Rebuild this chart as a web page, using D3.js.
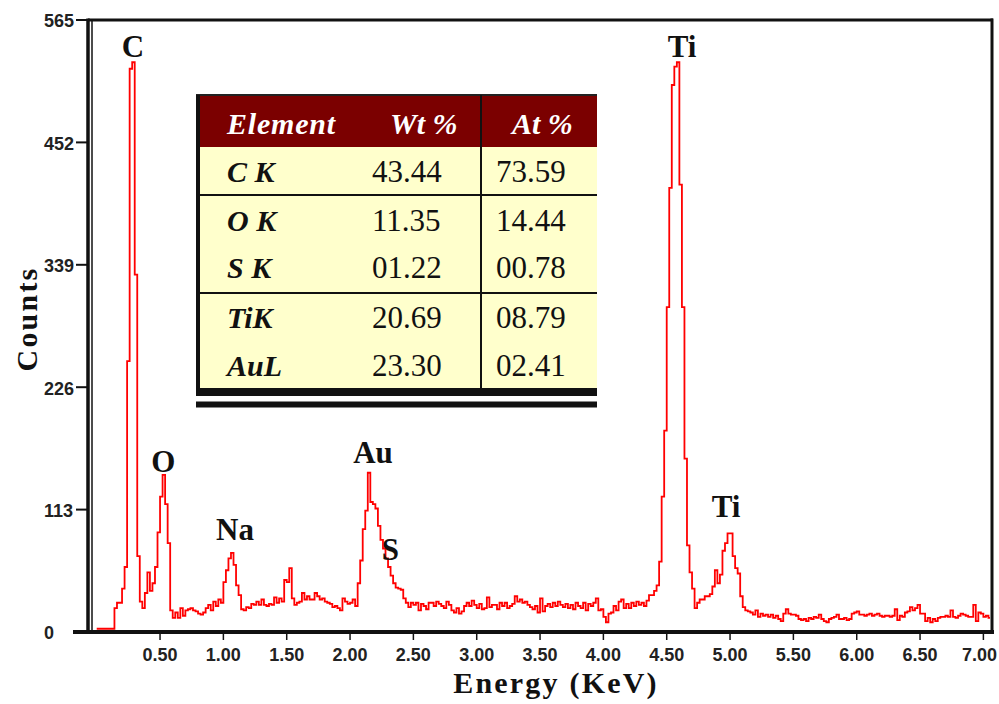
<!DOCTYPE html>
<html><head><meta charset="utf-8">
<script src="https://cdn.jsdelivr.net/npm/d3@7"></script>
<style>body{margin:0;background:#fff}svg{display:block}</style>
</head><body><svg id="chart" width="999" height="704"></svg>
<script>
// ---- data ----
const energyStart = 0.0;      // keV of first channel
const channelWidth = 0.02;    // keV per channel
const counts = [
  3,3,3,3,3,3,3,22,27,27,
  40,60,250,520,526,330,70,28,22,36,
  55,38,45,60,92,125,145,118,82,20,
  13,18,13,22,15,20,21,22,20,19,
  17,16,18,22,25,20,28,24,30,27,
  46,57,68,73,62,43,34,21,20,23,
  22,26,25,28,25,30,25,24,26,25,
  32,27,31,28,48,46,59,31,25,27,
  28,36,30,33,30,30,36,33,30,31,
  28,27,26,23,24,22,20,31,28,26,
  27,30,24,45,66,95,112,147,120,118,
  114,98,85,77,68,60,52,45,41,40,
  39,31,27,23,27,25,27,20,26,24,
  21,27,27,24,28,26,24,22,28,25,
  20,18,22,17,19,24,27,24,29,25,
  22,26,21,22,32,23,25,25,21,27,
  24,27,22,24,26,33,28,30,27,28,
  25,23,21,24,18,31,19,24,26,23,
  27,24,28,25,23,26,22,25,21,27,
  24,22,27,20,26,24,27,31,20,21,
  14,9,17,18,24,20,28,30,22,26,
  22,27,24,28,25,27,24,29,34,34,
  38,43,65,125,186,300,410,505,522,526,
  413,300,160,80,55,40,22,27,30,30,
  33,33,35,42,57,45,53,75,82,91,
  91,70,59,54,33,23,20,19,18,16,
  20,14,17,15,16,14,16,13,15,12,
  10,17,21,17,16,16,15,12,11,12,
  10,13,12,14,13,16,12,10,9,12,
  13,14,16,12,12,13,11,12,17,18,
  19,16,16,15,16,17,15,16,17,15,
  14,15,15,14,15,21,11,15,14,18,
  19,23,20,22,25,17,17,10,13,9,
  12,10,13,14,14,15,14,20,14,13,
  15,17,16,15,14,14,25,10,18,17,
  14,15,13,14
];
const yTicks = [0, 113, 226, 339, 452, 565];
const xTicks = [0.5,1.0,1.5,2.0,2.5,3.0,3.5,4.0,4.5,5.0,5.5,6.0,6.5,7.0];
const xTickLabels = ["0.50","1.00","1.50","2.00","2.50","3.00","3.50","4.00","4.50","5.00","5.50","6.00","6.50","7.00"];
const peakNames = ["C","O","Na","Au","S","Ti","Ti"];
const peakLabelEnergy = [0.286, 0.526, 1.092, 2.181, 2.319, 4.621, 4.968];
const peakLabelCount = [531, 147.7, 84.9, 156, 66.5, 531, 106.2];
const xTitle = "Energy (KeV)";
const yTitle = "Counts";
const tableHeader = ["Element", "Wt %", "At %"];
const tableElements = ["C K", "O K", "S K", "TiK", "AuL"];
const tableWt = ["43.44", "11.35", "01.22", "20.69", "23.30"];
const tableAt = ["73.59", "14.44", "00.78", "08.79", "02.41"];

// ---- drawing ----
const svg = d3.select("#chart");
const L = 90, R = 992, T = 20, B = 632;
const x = d3.scaleLinear().domain([-0.053, 7.068]).range([L, R]);
const y = d3.scaleLinear().domain([0, 565]).range([B, T]);
const sansBold = "'Liberation Sans', Arial, sans-serif";
const serif = "'Liberation Serif', 'Times New Roman', serif";

const pts = counts.map((c, i) => [energyStart + i * channelWidth, c]);
pts.push([energyStart + counts.length * channelWidth, counts[counts.length - 1]]);

const defs = svg.append("defs");
defs.append("clipPath").attr("id", "plotClip").append("rect")
  .attr("x", L + 3).attr("y", T).attr("width", R - L - 5).attr("height", B - T);

// spectrum
const line = d3.line().x(d => x(d[0])).y(d => y(d[1])).curve(d3.curveStepAfter);
svg.append("path").datum(pts)
  .attr("clip-path", "url(#plotClip)")
  .attr("d", line).attr("fill", "none").attr("stroke", "#ff0000")
  .attr("stroke-width", 1.8).attr("stroke-linejoin", "miter");

// frame
svg.append("line").attr("x1", L - 2).attr("x2", R + 1).attr("y1", T).attr("y2", T)
  .attr("stroke", "#111").attr("stroke-width", 3);
svg.append("line").attr("x1", R).attr("x2", R).attr("y1", T - 1.5).attr("y2", B)
  .attr("stroke", "#111").attr("stroke-width", 3);
svg.append("line").attr("x1", L - 2).attr("x2", L - 2).attr("y1", T - 1.5).attr("y2", B)
  .attr("stroke", "#111").attr("stroke-width", 3.5);
svg.append("line").attr("x1", L + 2).attr("x2", L + 2).attr("y1", T).attr("y2", B)
  .attr("stroke", "#111").attr("stroke-width", 1.5);
svg.append("line").attr("x1", 73).attr("x2", R + 2).attr("y1", B).attr("y2", B)
  .attr("stroke", "#111").attr("stroke-width", 4);

// y axis ticks & labels
const yg = svg.append("g");
yTicks.forEach(t => {
  if (t !== 0) {
    yg.append("line").attr("x1", 76).attr("x2", L - 2).attr("y1", y(t)).attr("y2", y(t))
      .attr("stroke", "#111").attr("stroke-width", 2);
  }
  yg.append("text").attr("x", 44).attr("y", y(t) + 1).attr("dy", "0.35em")
    .attr("font-family", sansBold).attr("font-weight", "bold").attr("font-size", 18)
    .attr("fill", "#222").text(t);
});

// x axis ticks & labels
const xg = svg.append("g");
xTicks.forEach((t, i) => {
  const last = i === xTicks.length - 1;
  xg.append("line").attr("x1", x(t)).attr("x2", x(t)).attr("y1", B).attr("y2", B + 8)
    .attr("stroke", "#111").attr("stroke-width", 1.5);
  xg.append("text").attr("x", last ? 997 : x(t)).attr("y", 661)
    .attr("text-anchor", last ? "end" : "middle")
    .attr("font-family", sansBold).attr("font-weight", "bold").attr("font-size", 18)
    .attr("fill", "#222").text(xTickLabels[i]);
});

// axis titles
svg.append("text").attr("x", 556).attr("y", 693).attr("text-anchor", "middle")
  .attr("font-family", serif).attr("font-weight", "bold").attr("font-size", 30)
  .attr("letter-spacing", 2.2).attr("fill", "#111").text(xTitle);
svg.append("text").attr("transform", "translate(37,319) rotate(-90)").attr("text-anchor", "middle")
  .attr("font-family", serif).attr("font-weight", "bold").attr("font-size", 30)
  .attr("letter-spacing", 2.2).attr("fill", "#111").text(yTitle);

// peak labels
peakNames.forEach((n, i) => {
  svg.append("text").attr("x", x(peakLabelEnergy[i])).attr("y", y(peakLabelCount[i]))
    .attr("text-anchor", "middle").attr("font-family", serif).attr("font-weight", "bold")
    .attr("font-size", 31).attr("fill", "#111").text(n);
});

// table
const tg = svg.append("g");
const tL = 196, tR = 597, tTop = 95, hBot = 147, bBot = 388;
tg.append("rect").attr("x", tL).attr("y", tTop).attr("width", tR - tL).attr("height", hBot - tTop).attr("fill", "#7b0000");
tg.append("rect").attr("x", tL).attr("y", hBot).attr("width", tR - tL).attr("height", bBot - hBot).attr("fill", "#ffffcc");
tg.append("line").attr("x1", tL).attr("x2", tR).attr("y1", tTop).attr("y2", tTop).attr("stroke", "#222").attr("stroke-width", 2);
tg.append("rect").attr("x", tL).attr("y", tTop).attr("width", 4).attr("height", bBot - tTop + 8).attr("fill", "#111");
tg.append("line").attr("x1", 481).attr("x2", 481).attr("y1", tTop).attr("y2", bBot).attr("stroke", "#111").attr("stroke-width", 2);
[195, 293].forEach(yy => tg.append("line").attr("x1", tL).attr("x2", tR).attr("y1", yy).attr("y2", yy).attr("stroke", "#111").attr("stroke-width", 2));
tg.append("rect").attr("x", tL).attr("y", bBot).attr("width", tR - tL).attr("height", 8).attr("fill", "#111");
tg.append("rect").attr("x", tL).attr("y", 401.5).attr("width", tR - tL).attr("height", 6).attr("fill", "#111");

const colX = [227, 372, 496];
const hdrX = [227, 390, 512];
tableHeader.forEach((h, i) => {
  tg.append("text").attr("x", hdrX[i]).attr("y", 134).attr("font-family", serif)
    .attr("font-weight", "bold").attr("font-style", "italic").attr("font-size", 30)
    .attr("letter-spacing", i === 0 ? 0.8 : 0)
    .attr("fill", "#fff").text(h);
});
const rowY = [182, 231, 278, 328, 376];
tableElements.forEach((e, i) => {
  tg.append("text").attr("x", colX[0]).attr("y", rowY[i]).attr("font-family", serif)
    .attr("font-weight", "bold").attr("font-style", "italic").attr("font-size", 30)
    .attr("fill", "#111").text(e);
  tg.append("text").attr("x", colX[1]).attr("y", rowY[i]).attr("font-family", serif)
    .attr("font-size", 31).attr("fill", "#111").text(tableWt[i]);
  tg.append("text").attr("x", colX[2]).attr("y", rowY[i]).attr("font-family", serif)
    .attr("font-size", 31).attr("fill", "#111").text(tableAt[i]);
});
</script></body></html>
